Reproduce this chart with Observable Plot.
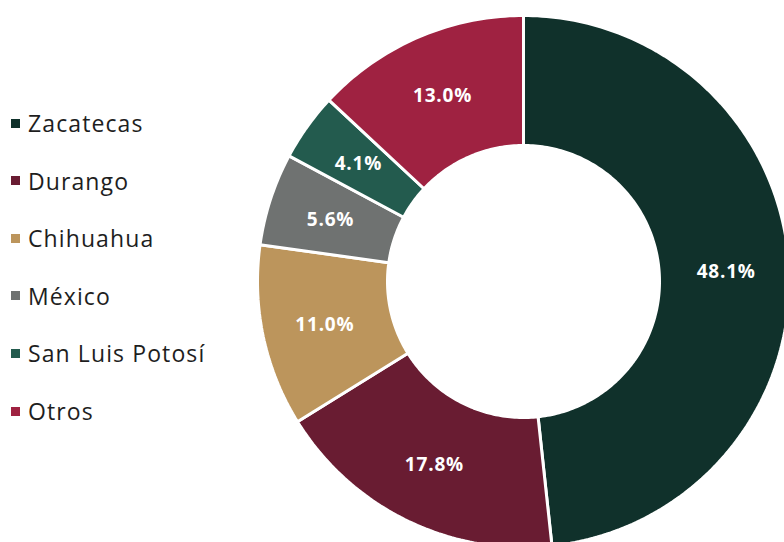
<!DOCTYPE html>
<html>
<head>
<meta charset="utf-8">
<script src="https://cdn.jsdelivr.net/npm/d3@7"></script>
<script src="https://cdn.jsdelivr.net/npm/@observablehq/plot@0.6"></script>
<style>
  html, body { margin: 0; padding: 0; background: #fff; }
  #wrap { position: relative; width: 784px; height: 542px; overflow: hidden; }
  #chart { position: absolute; left: 0; top: 0; }
  .leg { position: absolute; left: 11px; display: flex; align-items: center; height: 30px;
         font-family: "Open Sans", sans-serif; font-size: 23px; letter-spacing: 1.1px;
         color: #1e1e1e; white-space: nowrap; }
  .leg .sw { width: 9px; height: 9px; margin-right: 8px; flex: none; }
</style>
</head>
<body>
<div id="wrap"><div id="chart"></div></div>
<script>
// ---- data ----
const estados = ["Zacatecas", "Durango", "Chihuahua", "México", "San Luis Potosí", "Otros"];
const participacion = [48.1, 17.8, 11.0, 5.6, 4.1, 13.0];
const colores = ["#10312B", "#691C32", "#BC955C", "#6F7271", "#235B4E", "#9F2241"];

// ---- geometry ----
const W = 784, H = 542;
const cx = 523, cy = 281;      // donut centre in pixels
const R = 266, r0 = 136;       // outer / inner radius

const rows = estados.map((e, i) => ({estado: e, valor: participacion[i]}));
const arcs = d3.pie().sort(null).value(d => d.valor)(rows);

// build slice outlines (outer arc then inner arc back)
const outline = [];
for (const a of arcs) {
  const n = Math.max(4, Math.ceil((a.endAngle - a.startAngle) / (Math.PI / 180)));
  for (let k = 0; k <= n; k++) {
    const t = a.startAngle + (a.endAngle - a.startAngle) * k / n;
    outline.push({estado: a.data.estado, x: R * Math.sin(t), y: -R * Math.cos(t)});
  }
  for (let k = n; k >= 0; k--) {
    const t = a.startAngle + (a.endAngle - a.startAngle) * k / n;
    outline.push({estado: a.data.estado, x: r0 * Math.sin(t), y: -r0 * Math.cos(t)});
  }
}
const labels = arcs.map(a => {
  const m = (a.startAngle + a.endAngle) / 2, rm = (R + r0) / 2 + 2;
  return {estado: a.data.estado, x: rm * Math.sin(m), y: -rm * Math.cos(m),
          text: a.data.valor.toFixed(1) + "%"};
});

const chart = Plot.plot({
  width: W, height: H,
  marginTop: 0, marginRight: 0, marginBottom: 0, marginLeft: 0,
  x: {domain: [-cx, W - cx], range: [0, W], axis: null},
  y: {domain: [-cy, H - cy], range: [0, H], axis: null},
  color: {domain: estados, range: colores},
  style: {background: "white"},
  marks: [
    Plot.line(outline, {x: "x", y: "y", z: "estado", fill: "estado", stroke: "white",
                        strokeWidth: 3, curve: "linear-closed", strokeLinejoin: "miter"}),
    Plot.text(labels, {x: "x", y: "y", text: "text", fill: "white", dy: 1,
                       fontSize: 19, fontWeight: "bold", fontFamily: "Open Sans, sans-serif"})
  ]
});
chart.querySelectorAll("text").forEach(t => t.setAttribute("letter-spacing", "0.8"));
document.getElementById("chart").appendChild(chart);

// legend (left column)
const wrap = document.getElementById("wrap");
estados.forEach((e, i) => {
  const row = document.createElement("div");
  row.className = "leg";
  row.style.top = (123 + i * 57.6 - 15) + "px";
  const sw = document.createElement("span");
  sw.className = "sw";
  sw.style.background = colores[i];
  const tx = document.createElement("span");
  tx.textContent = e;
  row.appendChild(sw); row.appendChild(tx);
  wrap.appendChild(row);
});
</script>
</body>
</html>
